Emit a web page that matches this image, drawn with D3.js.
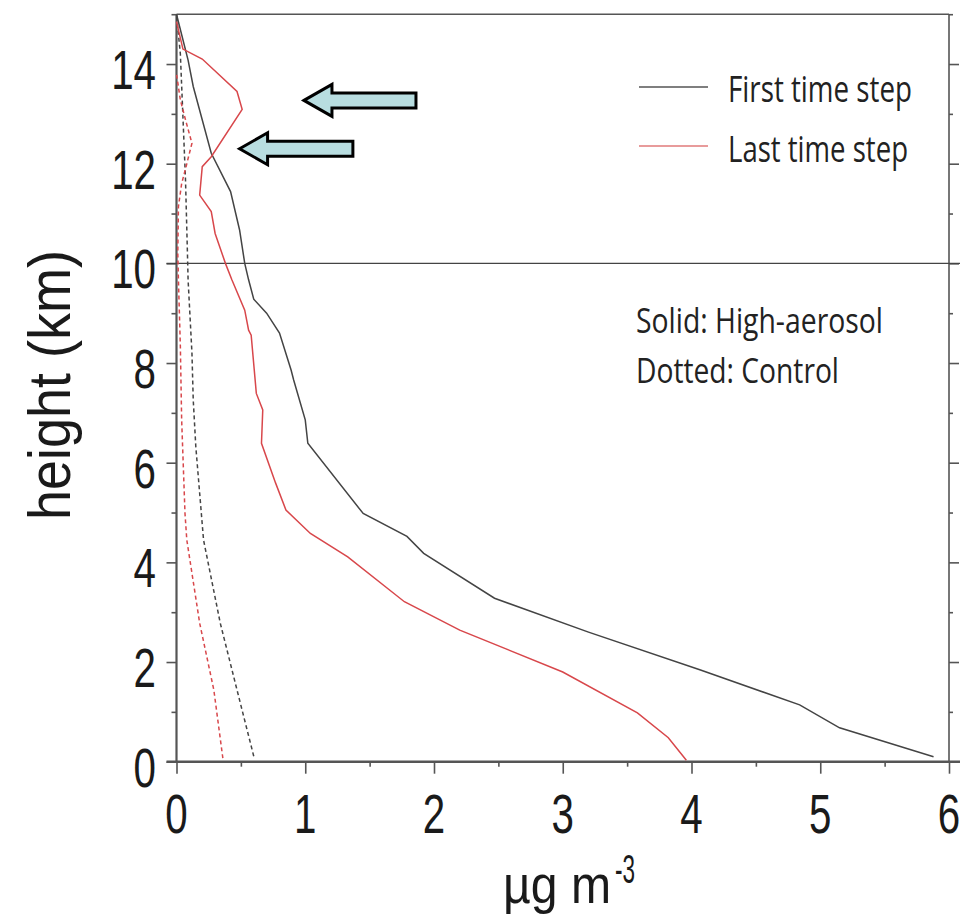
<!DOCTYPE html>
<html>
<head>
<meta charset="utf-8">
<script src="https://cdn.jsdelivr.net/npm/d3@7"></script>
<style>
  html, body { margin: 0; padding: 0; background: #fff; }
  svg { display: block; }
</style>
</head>
<body>
<div id="chart"></div>
<script>
// profiles: [concentration (ug m-3), height (km)], read bottom to top
var firstHigh = [[5.88,0.10],[5.15,0.68],[4.84,1.14],[4.07,1.84],[3.2,2.6],[2.47,3.28],[1.92,4.18],
  [1.79,4.52],[1.45,4.98],[1.02,6.39],[1.00,6.86],[0.91,7.66],[0.89,7.86],[0.80,8.60],[0.70,9.0],
  [0.60,9.28],[0.56,9.67],[0.53,10.0],[0.49,10.67],[0.42,11.44],[0.27,12.21],[0.13,13.55],[0.09,14.08],[0,15]];
var lastHigh = [[3.96,0.03],[3.82,0.48],[3.58,0.98],[3.0,1.8],[2.20,2.64],[1.77,3.21],[1.33,4.11],
  [1.04,4.58],[0.85,5.05],[0.77,5.59],[0.66,6.39],[0.67,7.06],[0.62,7.39],[0.58,8.56],[0.56,8.66],
  [0.53,9.06],[0.43,9.67],[0.38,10.0],[0.30,10.6],[0.27,11.04],[0.18,11.37],[0.20,11.94],[0.27,12.14],
  [0.51,13.09],[0.47,13.45],[0.20,14.1],[0.05,14.3],[0,14.85]];
var firstCtrl = [[0.60,0.11],[0.47,1.44],[0.34,2.78],[0.21,4.45],[0.15,6.32],[0.13,7.26],[0.12,8.2],
  [0.09,9.67],[0.085,10.2],[0.07,11.67],[0.05,12.94],[0.03,14.2],[0,15]];
var lastCtrl = [[0.36,0.07],[0.29,1.44],[0.18,2.78],[0.08,4.45],[0.066,4.98],[0.04,6.86],[0.03,8.33],
  [0.015,9.67],[0.01,10.2],[0.015,11.14],[0.04,11.6],[0.08,12.0],[0.12,12.41],[0.07,12.88],[0.03,13.28],[0,13.8]];

var xMajor = [0,1,2,3,4,5,6];
var xMinor = [0.5,1.5,2.5,3.5,4.5,5.5];
var yMajor = [0,2,4,6,8,10,12,14];
var yMinor = [1,3,5,7,9,11,13,15];

var legendItems = ["First time step", "Last time step"];
var noteLines = ["Solid: High-aerosol", "Dotted: Control"];

// arrows pointing at the upper red bulge: tip [x, h], tail x
var arrows = [{tip: [0.99, 13.27], tail: 1.86}, {tip: [0.49, 12.30], tail: 1.37}];

var W = 965, H = 923;
var svg = d3.select("#chart").append("svg").attr("width", W).attr("height", H);

var x = d3.scaleLinear().domain([0, 6]).range([176.5, 949]);
var y = d3.scaleLinear().domain([0, 15]).range([761.7, 14.2]);

var axisColor = "#555";

// ticks
function tickAxis(axis, size, tx, ty) {
  var g = svg.append("g").attr("transform", "translate(" + tx + "," + ty + ")")
    .call(axis.tickSize(size).tickFormat(""));
  g.select(".domain").remove();
  g.selectAll("line").attr("stroke", axisColor).attr("stroke-width", 1.6);
}
tickAxis(d3.axisLeft(y).tickValues(yMajor), 10, x(0), 0);
tickAxis(d3.axisLeft(y).tickValues(yMinor), 5, x(0), 0);
tickAxis(d3.axisRight(y).tickValues(yMajor), 10, x(6), 0);
tickAxis(d3.axisRight(y).tickValues(yMinor), 4, x(6), 0);
tickAxis(d3.axisBottom(x).tickValues(xMajor), 12, 0, y(0));
tickAxis(d3.axisBottom(x).tickValues(xMinor), 5, 0, y(0));

// frame
svg.append("line").attr("x1", x(0)).attr("x2", x(0)).attr("y1", y(15)).attr("y2", y(0))
  .attr("stroke", axisColor).attr("stroke-width", 2.2);
svg.append("line").attr("x1", x(6)).attr("x2", x(6)).attr("y1", y(15)).attr("y2", y(0))
  .attr("stroke", axisColor).attr("stroke-width", 1.6);
svg.append("line").attr("x1", x(0)).attr("x2", x(6)).attr("y1", y(15)).attr("y2", y(15))
  .attr("stroke", axisColor).attr("stroke-width", 1.6);
svg.append("line").attr("x1", x(0) - 10).attr("x2", x(6) + 11).attr("y1", y(0)).attr("y2", y(0))
  .attr("stroke", axisColor).attr("stroke-width", 2.4);
// 10 km line
svg.append("line").attr("x1", x(0) - 10).attr("x2", x(6) + 11).attr("y1", y(10)).attr("y2", y(10))
  .attr("stroke", "#444").attr("stroke-width", 1.4);

// tick labels (narrow lettering)
var tickFont = "'Liberation Sans', Arial, sans-serif";
var sx = 0.72;
svg.selectAll(".ylab").data(yMajor).enter().append("text")
  .attr("class", "ylab")
  .attr("transform", function(d) { return "translate(156," + (y(d) + 25) + ") scale(" + sx + ",1)"; })
  .attr("text-anchor", "end")
  .attr("font-family", tickFont).attr("font-size", 56).attr("fill", "#1a1a1a")
  .text(function(d) { return d; });
svg.selectAll(".xlab").data(xMajor).enter().append("text")
  .attr("class", "xlab")
  .attr("transform", function(d) { return "translate(" + x(d) + ",833) scale(" + sx + ",1)"; })
  .attr("text-anchor", "middle")
  .attr("font-family", tickFont).attr("font-size", 56).attr("fill", "#1a1a1a")
  .text(function(d) { return d; });

// axis titles
svg.append("text")
  .attr("transform", "translate(70,385) rotate(-90)")
  .attr("text-anchor", "middle")
  .attr("font-family", tickFont).attr("font-size", 60).attr("fill", "#1a1a1a")
  .attr("textLength", 270).attr("lengthAdjust", "spacingAndGlyphs")
  .text("height (km)");
svg.append("text")
  .attr("x", 503).attr("y", 903)
  .attr("font-family", tickFont).attr("font-size", 54).attr("fill", "#1a1a1a")
  .attr("textLength", 108).attr("lengthAdjust", "spacingAndGlyphs")
  .text("µg m");
svg.append("text")
  .attr("x", 615).attr("y", 883)
  .attr("font-family", tickFont).attr("font-size", 40).attr("fill", "#1a1a1a")
  .attr("textLength", 20).attr("lengthAdjust", "spacingAndGlyphs")
  .text("-3");

// profiles
var line = d3.line().x(function(d) { return x(d[0]); }).y(function(d) { return y(d[1]); });
var black = "#444", red = "#d8474b";
var series = [
  {data: firstCtrl, color: black, dash: "4,3"},
  {data: lastCtrl, color: red, dash: "4,3"},
  {data: firstHigh, color: black, dash: null},
  {data: lastHigh, color: red, dash: null}
];
svg.selectAll(".profile").data(series).enter().append("path")
  .attr("class", "profile")
  .attr("d", function(d) { return line(d.data); })
  .attr("fill", "none")
  .attr("stroke", function(d) { return d.color; })
  .attr("stroke-width", 1.5)
  .attr("stroke-dasharray", function(d) { return d.dash; });

// arrows
svg.selectAll(".arrow").data(arrows).enter().append("path")
  .attr("class", "arrow")
  .attr("d", function(d) {
    var tx = x(d.tip[0]), ty = y(d.tip[1]), ex = x(d.tail);
    var hb = tx + 28, hh = 16, sh = 7.5;
    return "M" + tx + "," + ty + "L" + hb + "," + (ty - hh) + "L" + hb + "," + (ty - sh) +
      "L" + ex + "," + (ty - sh) + "L" + ex + "," + (ty + sh) + "L" + hb + "," + (ty + sh) +
      "L" + hb + "," + (ty + hh) + "Z";
  })
  .attr("fill", "#b8dde0").attr("stroke", "#000").attr("stroke-width", 3)
  .attr("stroke-linejoin", "miter");

// legend
var legFont = "'Open Sans', 'Noto Sans', sans-serif";
var leg = svg.selectAll(".leg").data(legendItems).enter().append("g").attr("class", "leg");
leg.append("line")
  .attr("x1", 639).attr("x2", 708)
  .attr("y1", function(d, i) { return 87 + i * 59; })
  .attr("y2", function(d, i) { return 87 + i * 59; })
  .attr("stroke", function(d, i) { return i ? "#e07a7a" : "#555"; })
  .attr("stroke-width", 1.5);
leg.append("text")
  .attr("x", 728)
  .attr("y", function(d, i) { return 102 + i * 60; })
  .attr("font-family", legFont).attr("font-size", 36).attr("fill", "#222")
  .attr("textLength", function(d, i) { return i ? 180 : 184; })
  .attr("lengthAdjust", "spacingAndGlyphs")
  .text(function(d) { return d; });

svg.selectAll(".note").data(noteLines).enter().append("text")
  .attr("class", "note")
  .attr("x", 636)
  .attr("y", function(d, i) { return 333 + i * 50; })
  .attr("font-family", legFont).attr("font-size", 35).attr("fill", "#222")
  .attr("textLength", function(d, i) { return i ? 203 : 247; })
  .attr("lengthAdjust", "spacingAndGlyphs")
  .text(function(d) { return d; });
</script>
</body>
</html>
